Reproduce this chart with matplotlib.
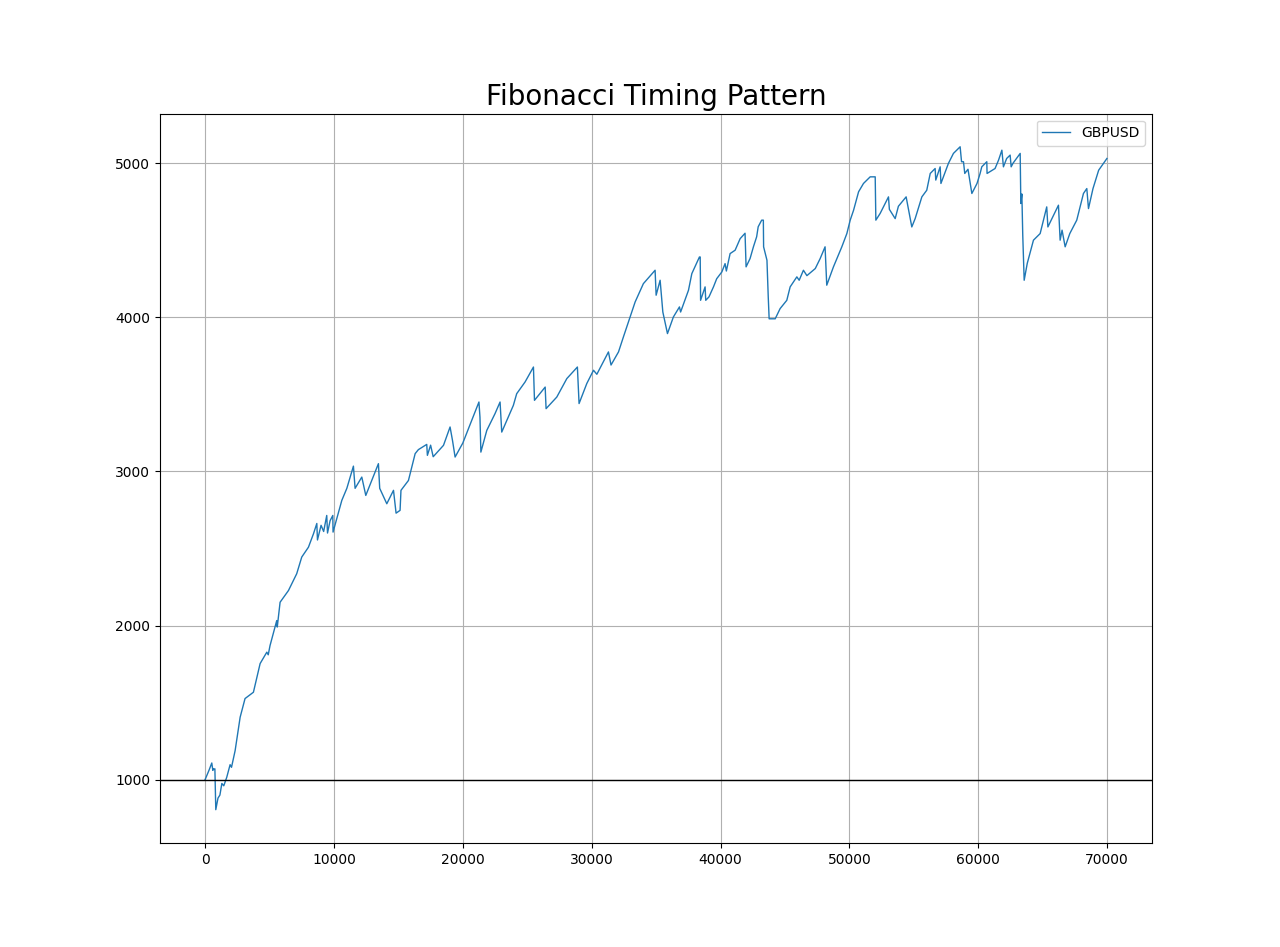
import matplotlib
matplotlib.use("Agg")
import matplotlib.pyplot as plt

# equity curve breakpoints (trade number, balance)
trade_idx = [0, 300, 520, 600, 650, 700, 760, 830, 1000, 1150, 1300, 1450, 1680, 1940, 2050,
             2330, 2720, 3100, 3750, 4270, 4790, 4900, 5040, 5560, 5600, 5820, 6470, 7110,
             7500, 8020, 8410, 8670, 8720, 9000, 9200, 9440, 9500, 9700, 9910, 9930, 10610,
             11000, 11510, 11640, 12160, 12470, 13450, 13550, 14100, 14620, 14820, 15130,
             15200, 15780, 16300, 16550, 17200, 17250, 17500, 17700, 18500, 19010, 19200,
             19400, 20000, 21250, 21330, 21400, 21860, 22500, 22890, 23020, 23920, 24180,
             24830, 25480, 25560, 26390, 26460, 27290, 28070, 28890, 29020, 29620, 30140,
             30400, 31300, 31500, 32080, 32460, 32980, 33370, 34010, 34920, 35000, 35310,
             35520, 35880, 36340, 36810, 36900, 37510, 37770,
             38360, 38420, 38450, 38800, 38850, 39100, 39450, 39700, 40100, 40350, 40450,
             40740, 41130, 41520, 41900, 41980, 42290, 42550, 42800, 42920, 43190, 43320,
             43340, 43600, 43700, 43770, 44240, 44620, 45140, 45400, 45920, 46100, 46430,
             46700, 47350, 47730, 48110, 48240,
             48760, 49410, 49800, 50060, 50320, 50710, 51090, 51610, 52000, 52050, 52380,
             53030, 53100, 53550, 53800, 54400, 54840, 55100, 55620, 56000, 56270, 56650,
             56700, 57040, 57100, 57680, 58070,
             58590, 58700, 58850, 58950, 59200, 59500, 59900, 60140, 60270, 60660, 60680,
             61300, 61570, 61830, 61950, 62200, 62470, 62550, 62700, 63250,
             63300, 63380, 63450,
             63560, 63800, 64280, 64800, 65310, 65400, 66220, 66350, 66500, 66740, 67100,
             67640, 68160, 68420, 68550, 68900, 69340, 69980]
equity = [1000, 1060, 1108, 1060, 1070, 1068, 1070, 805, 880, 900, 975, 960, 1015, 1097, 1080,
          1188, 1405, 1526, 1567, 1753, 1827, 1810, 1870, 2032, 1990, 2151, 2227, 2336,
          2444, 2508, 2595, 2662, 2555, 2650, 2610, 2714, 2600, 2680, 2714, 2606, 2812,
          2890, 3034, 2890, 2963, 2844, 3050, 2890, 2790, 2877, 2729, 2747,
          2877, 2941, 3115, 3141, 3175, 3104, 3170, 3095, 3169, 3288, 3200,
          3093, 3184, 3450, 3352, 3125, 3266, 3375, 3450, 3255, 3428, 3504,
          3580, 3677, 3461, 3547, 3407, 3482, 3602, 3677, 3440, 3570, 3656,
          3630, 3775, 3690, 3775, 3872, 4002, 4099, 4218, 4305, 4143, 4240,
          4034, 3894, 4002, 4067, 4034, 4175, 4283,
          4391, 4391, 4110, 4197, 4110, 4132, 4197, 4250, 4294, 4348, 4300,
          4413, 4435, 4510, 4545, 4327, 4381, 4457, 4522, 4587, 4630, 4630,
          4457, 4370, 4132, 3990, 3990, 4056, 4110, 4197, 4262, 4240, 4305,
          4270, 4316, 4381, 4457, 4208,
          4327, 4457, 4543, 4630, 4694, 4814, 4868, 4911, 4911, 4630, 4673,
          4781, 4700, 4640, 4720, 4781, 4586, 4640, 4781, 4824, 4933, 4965,
          4890, 4976, 4868, 4998, 5063,
          5106, 5009, 5009, 4933, 4960, 4803, 4868, 4933, 4976, 5009, 4933,
          4965, 5019, 5084, 4976, 5030, 5052, 4976, 5000, 5063,
          4738, 4800, 4532,
          4240, 4350, 4500, 4543, 4716, 4586, 4727, 4500, 4565, 4457, 4543,
          4630, 4803, 4835, 4705, 4835, 4954, 5030]

fig = plt.figure(figsize=(12.8, 9.47), dpi=100)
plt.plot(trade_idx, equity, linewidth=1, label="GBPUSD")
plt.axhline(y=1000, color="black", linewidth=1)
plt.title("Fibonacci Timing Pattern", fontsize=20)
plt.legend()
plt.grid()
plt.savefig("out.png", dpi=100)
